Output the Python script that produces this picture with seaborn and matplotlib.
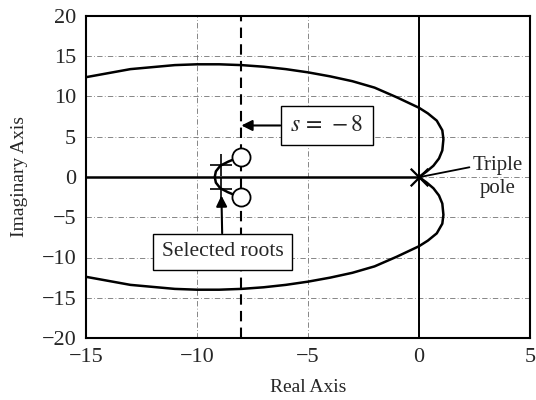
import matplotlib
matplotlib.use("Agg")
import matplotlib.pyplot as plt
import seaborn as sns
import pandas as pd

# ---- data ----
# upper half of the outer locus branch (real, imaginary)
outer_re = [0.0, 0.35, 0.65, 0.9, 1.05, 1.1, 1.05, 0.8, 0.4, 0.0, -1.0, -2.0, -3.0, -4.0,
            -5.0, -6.0, -7.0, -8.0, -9.0, -10.0, -11.0, -13.0, -15.0]
outer_im = [0.0, 0.7, 1.4, 2.3, 3.3, 4.7, 5.8, 7.0, 7.9, 8.6, 9.9, 11.1, 11.9, 12.5,
            13.0, 13.4, 13.7, 13.9, 14.0, 14.0, 13.9, 13.4, 12.4]
# upper half of the inner branch (from real-axis break-in to zero)
inner_re = [-9.2, -9.15, -8.95, -8.6, -8.25, -8.0]
inner_im = [0.0, 0.7, 1.4, 1.9, 2.3, 2.5]
# real-axis locus segment
realaxis_re = [-15.0, 0.0]
# zeros, poles, selected roots
zeros_re = [-8.0, -8.0]
zeros_im = [2.5, -2.5]
poles_re = [0.0]
poles_im = [0.0]
roots_re = [-8.9, -8.9]
roots_im = [1.5, -1.5]
s_line = -8.0

xticks = [-15, -10, -5, 0, 5]
yticks = [-20, -15, -10, -5, 0, 5, 10, 15, 20]

sns.set_theme(style="white")
plt.rcParams["font.family"] = ["Liberation Serif", "DejaVu Serif"]
plt.rcParams["mathtext.fontset"] = "stix"

fig = plt.figure(figsize=(5.36, 4.0), dpi=100)
ax = fig.add_axes([86 / 536, 62 / 400, (530 - 86) / 536, 322 / 400])

ax.set_xlim(-15, 5)
ax.set_ylim(-20, 20)
ax.set_xticks(xticks)
ax.set_yticks(yticks)
ax.grid(True, color="#666666", linestyle=(0, (7, 3, 1, 3)), linewidth=0.55)

# imaginary axis & s = -8 line
ax.axvline(0, color="black", lw=1.4, zorder=2)
ax.axvline(s_line, color="black", lw=1.5, ls=(0, (5, 3)), zorder=2)

line_kw = dict(sort=False, estimator=None, color="black", lw=1.8, ax=ax, zorder=3)
up = pd.DataFrame({"re": outer_re, "im": outer_im})
lo = pd.DataFrame({"re": outer_re, "im": [-v for v in outer_im]})
sns.lineplot(data=up, x="re", y="im", **line_kw)
sns.lineplot(data=lo, x="re", y="im", **line_kw)
inn = pd.DataFrame({"re": inner_re[::-1] + inner_re[1:],
                    "im": inner_im[::-1] + [-v for v in inner_im[1:]]})
sns.lineplot(data=inn, x="re", y="im", **line_kw)
ra = pd.DataFrame({"re": realaxis_re, "im": [0.0, 0.0]})
sns.lineplot(data=ra, x="re", y="im", **line_kw)

# markers
sns.scatterplot(x=zeros_re, y=zeros_im, marker="o", s=170, facecolor="white",
                edgecolor="black", linewidth=1.3, ax=ax, zorder=5)
sns.scatterplot(x=poles_re, y=poles_im, marker="x", s=160, color="black",
                linewidth=1.6, ax=ax, zorder=5)
sns.scatterplot(x=roots_re, y=roots_im, marker="+", s=260, color="black",
                linewidth=1.2, ax=ax, zorder=5)

ax.set_xlabel("Real Axis", fontsize=14, labelpad=9)
ax.set_ylabel("Imaginary Axis", fontsize=14, labelpad=10)
ax.tick_params(axis="both", labelsize=16, length=0, pad=7)
for sp in ax.spines.values():
    sp.set_color("black")
    sp.set_linewidth(1.5)
ax.set_xticklabels(["\u221215", "\u221210", "\u22125", "0", "5"])
ax.set_yticklabels(["\u221220", "\u221215", "\u221210", "\u22125", "0", "5", "10", "15", "20"])

box = dict(boxstyle="square,pad=0.4", fc="white", ec="black", lw=1.0)
ax.annotate(r"$s\,=\,-8$", xy=(s_line, 6.4), xytext=(-4.15, 6.4),
            fontsize=17, ha="center", va="center", bbox=box, zorder=6,
            arrowprops=dict(arrowstyle="-|>", color="black", lw=1.5,
                            mutation_scale=16, shrinkA=0, shrinkB=0))
ax.annotate("Selected roots", xy=(-8.9, -2.3), xytext=(-8.85, -9.3),
            fontsize=15.5, ha="center", va="center", bbox=box, zorder=6,
            arrowprops=dict(arrowstyle="-|>", color="black", lw=1.5,
                            mutation_scale=16, shrinkA=0, shrinkB=0))
ax.annotate("Triple\npole", xy=(0.05, 0.0), xytext=(3.55, 0.0),
            fontsize=15, ha="center", va="center", linespacing=1.25,
            annotation_clip=False, zorder=6,
            arrowprops=dict(arrowstyle="-", color="black", lw=1.3,
                            shrinkA=0, shrinkB=0, relpos=(0.0, 0.75)))

fig.savefig("out.png", dpi=100)
